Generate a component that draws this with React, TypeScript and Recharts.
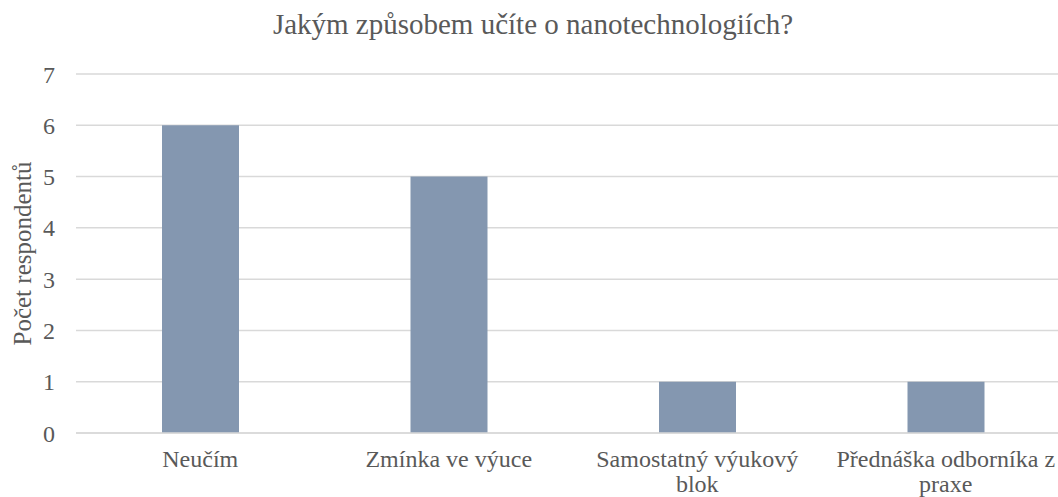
import React from 'react'
import { BarChart, Bar, XAxis, YAxis, CartesianGrid, Label } from 'recharts'

const categories = ['Neučím', 'Zmínka ve výuce', 'Samostatný výukový blok', 'Přednáška odborníka z praxe']
const counts = [6, 5, 1, 1]
const yTicks = [0, 1, 2, 3, 4, 5, 6, 7]

const data = categories.map((name, i) => ({ name, count: counts[i] }))

const FONT = '"Liberation Serif", "Times New Roman", serif'
const TEXT = '#595959'
const TICK_SIZE = 24

let ctx: CanvasRenderingContext2D | null = null
function wrap(label: string, maxWidth: number): string[] {
  if (!ctx) ctx = document.createElement('canvas').getContext('2d')
  if (!ctx) return [label]
  ctx.font = `${TICK_SIZE}px ${FONT}`
  const lines: string[] = []
  let cur = ''
  for (const word of label.split(' ')) {
    const next = cur ? cur + ' ' + word : word
    if (cur && ctx.measureText(next).width > maxWidth) {
      lines.push(cur)
      cur = word
    } else {
      cur = next
    }
  }
  if (cur) lines.push(cur)
  return lines
}

function CategoryTick(props: any) {
  const { x, y, payload } = props
  const lines = wrap(payload.value, 232)
  return (
    <text x={x} y={y} textAnchor="middle" fill={TEXT} style={{ fontFamily: FONT, fontSize: TICK_SIZE }}>
      {lines.map((line, i) => (
        <tspan key={i} x={x} dy={i === 0 ? '0.71em' : 25}>
          {line}
        </tspan>
      ))}
    </text>
  )
}

export default function App() {
  return (
    <div style={{ position: 'absolute', left: 0, top: 0, width: 1058, height: 497, overflow: 'hidden', background: '#fff' }}>
      <div
        style={{
          position: 'absolute',
          top: 10,
          left: 0,
          width: 1066,
          textAlign: 'center',
          fontFamily: FONT,
          fontSize: 29,
          lineHeight: 1,
          color: TEXT,
          whiteSpace: 'nowrap',
        }}
      >
        Jakým způsobem učíte o nanotechnologiích?
      </div>
      <BarChart
        width={1080}
        height={497}
        data={data}
        margin={{ top: 74, right: 10, left: 0, bottom: 0 }}
        barSize={77}
      >
        <CartesianGrid vertical={false} stroke="#d9d9d9" strokeWidth={1.5} />
        <XAxis
          dataKey="name"
          axisLine={{ stroke: '#d9d9d9', strokeWidth: 1.5 }}
          tickLine={false}
          tickSize={0}
          tickMargin={17}
          height={64}
          interval={0}
          tick={<CategoryTick />}
        />
        <YAxis
          domain={[0, 7]}
          ticks={yTicks}
          axisLine={false}
          tickLine={false}
          tickMargin={15}
          width={76}
          tick={{ fontSize: 24, fill: TEXT, style: { fontFamily: FONT } }}
        >
          <Label
            value="Počet respondentů"
            angle={-90}
            position="insideLeft"
            offset={22}
            style={{ textAnchor: 'middle', fontFamily: FONT, fontSize: 25, fill: TEXT }}
          />
        </YAxis>
        <Bar dataKey="count" fill="#8497b0" isAnimationActive={false} />
      </BarChart>
    </div>
  )
}
